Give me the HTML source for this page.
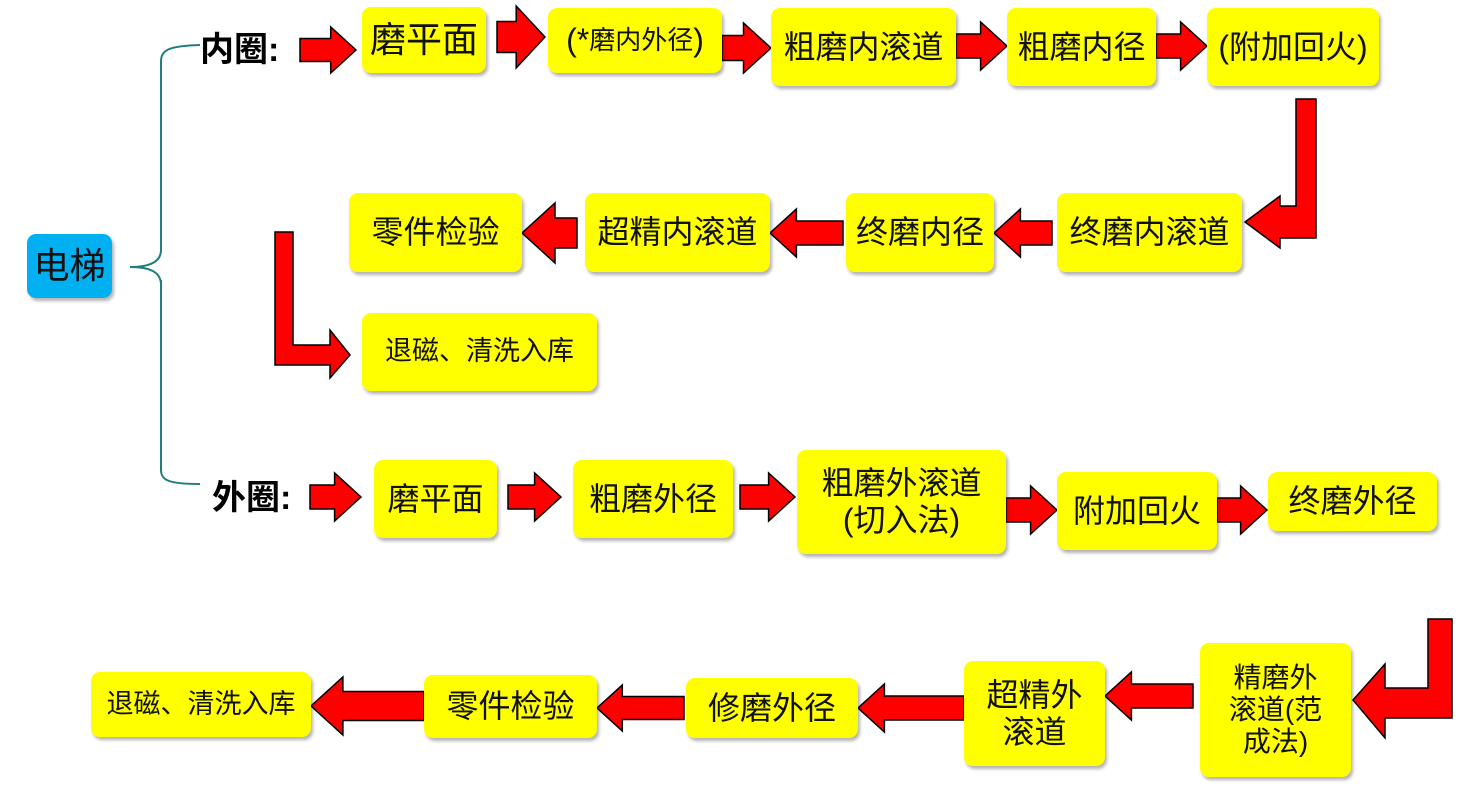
<!DOCTYPE html>
<html><head><meta charset="utf-8"><style>
body{margin:0;width:1476px;height:794px;background:#fff;position:relative;overflow:hidden;font-family:"Liberation Sans","Noto Sans CJK SC",sans-serif;}
.b{position:absolute;background:#ffff00;border-radius:9px;box-shadow:2px 3px 3px rgba(0,0,0,0.3);display:flex;align-items:center;justify-content:center;text-align:center;font-size:32px;color:#111;line-height:1.15;}
.l{position:absolute;font-weight:bold;font-size:34px;color:#000;}
svg{position:absolute;left:0;top:0}
</style></head><body>
<svg width="1476" height="794">
<path d="M130,267 C150,267 161,262 161,250 L161,62 C161,50 168,46 200,45 M161,280 L161,470 C161,480 168,484 200,484 M130,267 C150,267 161,272 161,285" fill="none" stroke="#1f7f7f" stroke-width="2"/>
<g fill="#ff0000" stroke="#000" stroke-width="1.5" id="arrows"></g>
</svg>
<div class="b" style="left:27px;top:234px;width:85px;height:64px;background:#00b0f0;font-size:36px;">电梯</div>
<div class="l" style="left:200px;top:22px;">内圈:</div>
<div class="l" style="left:212px;top:470px;">外圈:</div>
<div class="b" style="left:362px;top:7px;width:124px;height:66px;font-size:36px;">磨平面</div>
<div class="b" style="left:548px;top:8px;width:174px;height:65px;font-size:32px;">(*<span style="font-size:26px">磨内外径</span>)</div>
<div class="b" style="left:771px;top:8px;width:185px;height:78px;">粗磨内滚道</div>
<div class="b" style="left:1007px;top:8px;width:149px;height:78px;">粗磨内径</div>
<div class="b" style="left:1207px;top:8px;width:172px;height:78px;">(附加回火)</div>
<div class="b" style="left:349px;top:193px;width:173px;height:79px;">零件检验</div>
<div class="b" style="left:585px;top:193px;width:185px;height:79px;">超精内滚道</div>
<div class="b" style="left:846px;top:193px;width:148px;height:79px;">终磨内径</div>
<div class="b" style="left:1057px;top:193px;width:185px;height:79px;">终磨内滚道</div>
<div class="b" style="left:362px;top:313px;width:235px;height:78px;font-size:27px;">退磁、清洗入库</div>
<div class="b" style="left:374px;top:460px;width:123px;height:78px;">磨平面</div>
<div class="b" style="left:573px;top:460px;width:160px;height:78px;">粗磨外径</div>
<div class="b" style="left:797px;top:450px;width:209px;height:104px;">粗磨外滚道<br>(切入法)</div>
<div class="b" style="left:1057px;top:472px;width:160px;height:78px;">附加回火</div>
<div class="b" style="left:1268px;top:472px;width:169px;height:59px;">终磨外径</div>
<div class="b" style="left:91px;top:672px;width:220px;height:65px;font-size:27px;">退磁、清洗入库</div>
<div class="b" style="left:424px;top:675px;width:173px;height:63px;">零件检验</div>
<div class="b" style="left:686px;top:678px;width:172px;height:60px;">修磨外径</div>
<div class="b" style="left:964px;top:661px;width:141px;height:105px;">超精外<br>滚道</div>
<div class="b" style="left:1200px;top:643px;width:151px;height:134px;font-size:28px;">精磨外<br>滚道(范<br>成法)</div>
<script>
var g=document.getElementById('arrows'),s='';
function A(x1,x2,cy,h){var L=Math.min(h*0.55,Math.abs(x2-x1)*0.6),sh=h*0.25,d=x2>x1?1:-1,hx=x2-d*L;
s+='<polygon points="'+[x1,cy-sh,hx,cy-sh,hx,cy-h/2,x2,cy,hx,cy+h/2,hx,cy+sh,x1,cy+sh].join(',')+'"/>';}
A(300,356,50,46);A(497,545,37,62);A(722,771,48,50);A(956,1007,46,48);A(1156,1207,46,48);
A(577,522,233,60);A(843,770,233,48);A(1052,994,233,48);
A(310,361,497,48);A(508,561,497,48);A(740,795,497,48);A(1006,1057,510,48);A(1217,1267,510,48);
A(1193,1105,696,48);A(964,858,708,48);A(684,597,708,46);A(424,311,706,58);
s+='<polygon points="1296,99 1316,99 1316,238 1280,238 1280,248 1245,222 1280,196 1280,206 1296,206"/>';
s+='<polygon points="275,232 293,232 293,345 330,345 330,330 350,355 330,378 330,365 275,365"/>';
s+='<polygon points="1428,619 1452,619 1452,718 1385,718 1385,738 1353,700 1385,664 1385,688 1428,688"/>';
g.innerHTML=s;
</script>
</body></html>
